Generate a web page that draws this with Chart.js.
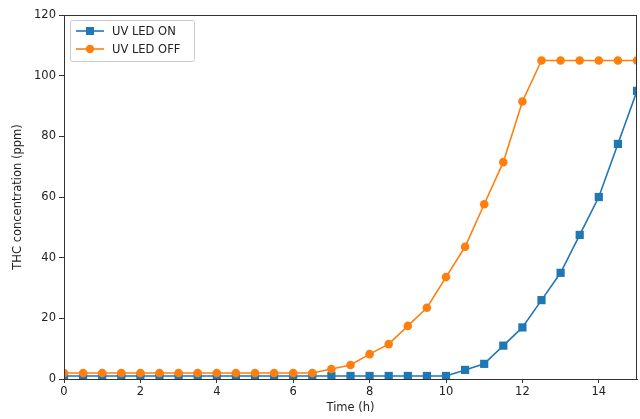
<!DOCTYPE html>
<html>
<head>
<meta charset="utf-8">
<script src="https://cdn.jsdelivr.net/npm/chart.js@4"></script>
<style>
  html, body { margin: 0; padding: 0; background: #fff; }
  #wrap { width: 640px; height: 419px; }
</style>
</head>
<body>
<div id="wrap"><canvas id="chartThc"></canvas></div>
<script>
const hours = [0, 0.5, 1, 1.5, 2, 2.5, 3, 3.5, 4, 4.5, 5, 5.5, 6, 6.5, 7, 7.5, 8, 8.5, 9, 9.5,
  10, 10.5, 11, 11.5, 12, 12.5, 13, 13.5, 14, 14.5, 15];
const ledOn = [1, 1, 1, 1, 1, 1, 1, 1, 1, 1, 1, 1, 1, 1, 1, 1, 1, 1, 1, 1,
  1, 3, 5, 11, 17, 26, 35, 47.5, 60, 77.5, 95];
const ledOff = [2, 2, 2, 2, 2, 2, 2, 2, 2, 2, 2, 2, 2, 2, 3.3, 4.6, 8.2, 11.5, 17.5, 23.5,
  33.6, 43.6, 57.6, 71.5, 91.5, 105, 105, 105, 105, 105, 105];
const xTicks = [0, 2, 4, 6, 8, 10, 12, 14];
const yTicks = [0, 20, 40, 60, 80, 100, 120];

const blue = "#1f77b4";
const orange = "#ff7f0e";
const FONT = "'DejaVu Sans', sans-serif";

// frame round the plot + matplotlib-like legend box
const framePlugin = {
  id: "frame",
  afterDraw(chart) {
    const { ctx, chartArea: a } = chart;
    ctx.save();
    ctx.strokeStyle = "#333";
    ctx.lineWidth = 1;
    ctx.strokeRect(a.left + 0.5, a.top + 0.5, a.right - a.left - 1, a.bottom - a.top);

    // legend
    const x = a.left + 6, y = a.top + 5, w = 124, h = 41;
    ctx.fillStyle = "rgba(255,255,255,0.8)";
    ctx.strokeStyle = "#ccc";
    ctx.beginPath();
    ctx.roundRect(x + 0.5, y + 0.5, w, h, 2);
    ctx.fill();
    ctx.stroke();
    ctx.font = "11.5px " + FONT;
    ctx.textBaseline = "middle";
    chart.data.datasets.forEach((ds, i) => {
      const cy = y + 11 + i * 18;
      ctx.strokeStyle = ds.borderColor;
      ctx.lineWidth = 1.6;
      ctx.beginPath();
      ctx.moveTo(x + 6, cy);
      ctx.lineTo(x + 34, cy);
      ctx.stroke();
      ctx.fillStyle = ds.backgroundColor;
      if (ds.pointStyle === "rect") {
        ctx.fillRect(x + 20 - 4, cy - 4, 8, 8);
      } else {
        ctx.beginPath();
        ctx.arc(x + 20, cy, 4.2, 0, Math.PI * 2);
        ctx.fill();
      }
      ctx.fillStyle = "#222";
      ctx.fillText(ds.label, x + 42, cy + 1);
    });
    ctx.restore();
  },
};

new Chart(document.getElementById("chartThc").getContext("2d"), {
  type: "line",
  data: {
    datasets: [
      {
        label: "UV LED ON",
        data: hours.map((h, i) => ({ x: h, y: ledOn[i] })),
        borderColor: blue,
        backgroundColor: blue,
        borderWidth: 1.6,
        pointStyle: "rect",
        pointRadius: 5.8,
        pointBorderWidth: 0,
        order: 2,
      },
      {
        label: "UV LED OFF",
        data: hours.map((h, i) => ({ x: h, y: ledOff[i] })),
        borderColor: orange,
        backgroundColor: orange,
        borderWidth: 1.6,
        pointStyle: "circle",
        pointRadius: 4.3,
        pointBorderWidth: 0,
        order: 1,
      },
    ],
  },
  options: {
    responsive: true,
    maintainAspectRatio: false,
    animation: false,
    layout: { autoPadding: false, padding: { left: 0, right: 3, top: 15, bottom: 0 } },
    plugins: { legend: { display: false }, tooltip: { enabled: false } },
    scales: {
      x: {
        type: "linear",
        min: 0,
        max: 15,
        afterBuildTicks: (s) => { s.ticks = xTicks.map((v) => ({ value: v })); },
        afterFit: (s) => { s.height = 40; s.paddingRight = 0; s.paddingLeft = 0; },
        grid: { drawOnChartArea: false, tickLength: 4, color: "#333" },
        border: { display: true, color: "#333" },
        ticks: { color: "#222", font: { family: FONT, size: 11.5 }, padding: 2, maxRotation: 0 },
        title: { display: true, text: "Time (h)", color: "#222", font: { family: FONT, size: 11.5 }, padding: { top: 4 } },
      },
      y: {
        min: 0,
        max: 120,
        afterBuildTicks: (s) => { s.ticks = yTicks.map((v) => ({ value: v })); },
        afterFit: (s) => { s.width = 64; },
        grid: { drawOnChartArea: false, tickLength: 5, color: "#333" },
        border: { display: true, color: "#333" },
        ticks: { color: "#222", font: { family: FONT, size: 11.5 }, padding: 3 },
        title: { display: true, text: "THC concentration (ppm)", color: "#222", font: { family: FONT, size: 11.5 }, padding: { top: 11, bottom: 0 } },
      },
    },
  },
  plugins: [framePlugin],
});
</script>
</body>
</html>
